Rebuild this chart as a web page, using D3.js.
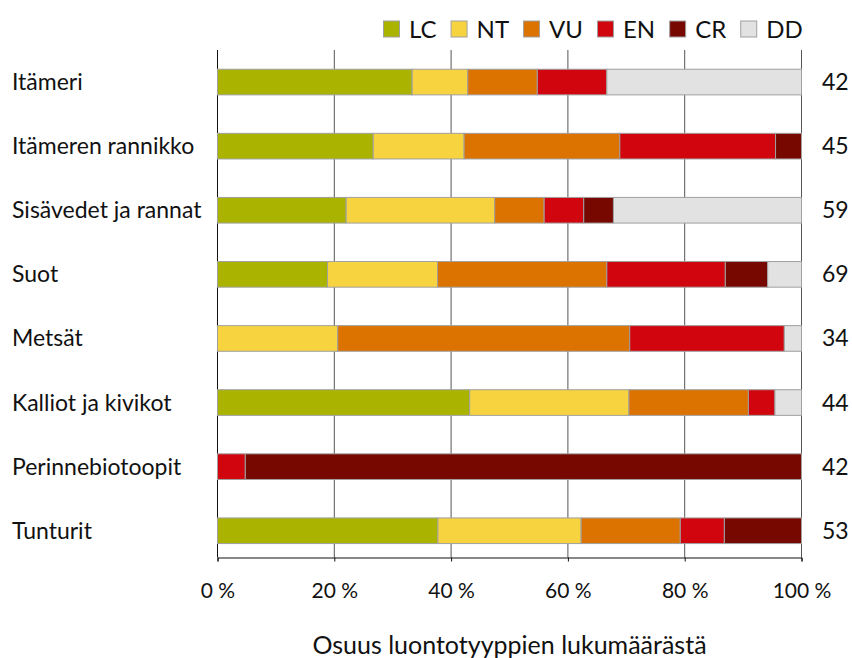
<!DOCTYPE html>
<html>
<head>
<meta charset="utf-8">
<script src="https://cdn.jsdelivr.net/npm/d3@7"></script>
<style>
  body { margin: 0; background: #fff; }
  svg text { font-family: Lato, "Open Sans", sans-serif; fill: #111; }
</style>
</head>
<body>
<div id="chart"></div>
<script>
// luontotyyppien uhanalaisuus, lukumäärät luokittain
var habitats = ["Itämeri", "Itämeren rannikko", "Sisävedet ja rannat", "Suot",
                "Metsät", "Kalliot ja kivikot", "Perinnebiotoopit", "Tunturit"];
var classes = ["LC", "NT", "VU", "EN", "CR", "DD"];
var classColors = ["#aab400", "#f7d43f", "#dc7300", "#d0050e", "#760800", "#e2e2e2"];

var LC = [14, 12, 13, 13, 0, 19, 0, 20];
var NT = [4, 7, 15, 13, 7, 12, 0, 13];
var VU = [5, 12, 5, 20, 17, 9, 0, 9];
var EN = [5, 12, 4, 14, 9, 2, 2, 4];
var CR = [0, 2, 3, 5, 0, 0, 40, 7];
var DD = [14, 0, 19, 4, 1, 2, 0, 0];
var totals = [42, 45, 59, 69, 34, 44, 42, 53];

var xTicks = [0, 20, 40, 60, 80, 100];

var w = 852, h = 658;
var plotLeft = 217.5, plotRight = 801.5, plotTop = 50, plotBottom = 557.5;

var series = [LC, NT, VU, EN, CR, DD];
var rows = habitats.map(function(name, i){
  var r = { name: name, total: totals[i] };
  classes.forEach(function(c, k){ r[c] = series[k][i] / totals[i] * 100; });
  return r;
});

var stacked = d3.stack().keys(classes)(rows);

var x = d3.scaleLinear().domain([0, 100]).range([plotLeft, plotRight]);
var y = d3.scaleBand().domain(habitats).range([plotTop, plotTop + 8 * 64.1])
  .paddingInner(0.6).paddingOuter(0.3);
var color = d3.scaleOrdinal().domain(classes).range(classColors);

var svg = d3.select("#chart").append("svg")
  .attr("width", w)
  .attr("height", h);

// pystyviivat
svg.selectAll(".grid")
  .data(xTicks)
  .enter().append("line")
  .attr("class", "grid")
  .attr("x1", function(d){ return x(d); })
  .attr("x2", function(d){ return x(d); })
  .attr("y1", plotTop)
  .attr("y2", plotBottom)
  .attr("stroke", function(d){ return d == 0 ? "#111" : "#555"; })
  .attr("stroke-width", 1);

svg.append("g").selectAll("g")
  .data(stacked)
  .enter().append("g")
  .attr("fill", function(d){ return color(d.key); })
  .selectAll("rect")
  .data(function(d){ return d.filter(function(s){ return s[1] - s[0] > 0; }); })
  .enter().append("rect")
  .attr("x", function(d){ return x(d[0]); })
  .attr("width", function(d){ return x(d[1]) - x(d[0]); })
  .attr("y", function(d){ return y(d.data.name); })
  .attr("height", y.bandwidth())
  .attr("stroke", "#a0a0a0")
  .attr("stroke-width", 1);

// x-akseli
var xAxis = d3.axisBottom(x)
  .tickValues(xTicks)
  .tickSize(4)
  .tickPadding(22)
  .tickFormat(function(d){ return d + " %"; });

var gx = svg.append("g")
  .attr("transform", "translate(0," + plotBottom + ")")
  .call(xAxis);
gx.select(".domain").attr("stroke", "#111");
gx.selectAll(".tick line").attr("stroke", "#111");
gx.selectAll("text")
  .style("font-size", "21px")
  .style("font-family", "Lato, sans-serif")
  .attr("fill", "#111");

svg.append("text")
  .attr("x", (plotLeft + plotRight) / 2)
  .attr("y", 654)
  .attr("text-anchor", "middle")
  .style("font-size", "25px")
  .text("Osuus luontotyyppien lukumäärästä");

// luokkien nimet
svg.selectAll(".cat")
  .data(habitats)
  .enter().append("text")
  .attr("class", "cat")
  .attr("x", 12)
  .attr("y", function(d){ return y(d) + y.bandwidth() / 2 + 8; })
  .style("font-size", "23px")
  .text(function(d){ return d; });

svg.selectAll(".tot")
  .data(rows)
  .enter().append("text")
  .attr("class", "tot")
  .attr("x", 822)
  .attr("y", function(d){ return y(d.name) + y.bandwidth() / 2 + 8; })
  .style("font-size", "23px")
  .text(function(d){ return d.total; });

// selite
var legend = svg.append("g");
var lx = 383;
classes.forEach(function(c){
  var item = legend.append("g").attr("transform", "translate(" + lx + ",0)");
  item.append("rect")
    .attr("x", 0.5).attr("y", 21)
    .attr("width", 16).attr("height", 16)
    .attr("fill", color(c))
    .attr("stroke", "#a0a0a0");
  var t = item.append("text")
    .attr("x", 26)
    .attr("y", 37.5)
    .style("font-size", "24px")
    .text(c);
  lx += 26 + t.node().getComputedTextLength() + 14;
});
</script>
</body>
</html>
